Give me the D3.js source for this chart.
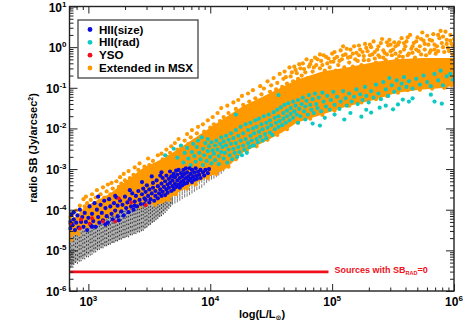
<!DOCTYPE html>
<html>
<meta charset="utf-8">
<head>
<style>
html, body { margin: 0; padding: 0; background: #fff; }
text { font-family: "Liberation Sans", Arial, sans-serif; font-weight: bold; }
.axis path, .axis line { fill: none; stroke: #222; stroke-width: 1; }
.frame { fill: none; stroke: #222; stroke-width: 1.4; }
</style>
<script src="https://d3js.org/d3.v7.min.js"></script>
</head>
<body>
<script>
// all values are log10(L/Lsun) and log10(SB)

var xExponents = [3, 4, 5, 6];
var yExponents = [-6, -5, -4, -3, -2, -1, 0, 1];
var legendNames = ["HII(size)", "HII(rad)", "YSO", "Extended in MSX"];
var legendColors = ["#0a0adf", "#0cc9c4", "#f0101c", "#ff9900"];

// the orange cloud is solid in the middle, so that part is an envelope
var coreL = [2.85, 2.97, 3.18, 3.30, 3.46, 3.61, 3.75, 3.91, 4.12, 4.27, 4.43, 4.59, 4.71, 4.92, 5.12, 5.36, 5.53, 5.74, 5.94, 6.0];
var coreHigh = [-4.34, -3.93, -3.6, -3.31, -2.95, -2.75, -2.48, -2.16, -1.74, -1.45, -1.22, -0.98, -0.8, -0.6, -0.5, -0.36, -0.3, -0.27, -0.27, -0.27];
var coreLow = [-4.70, -4.43, -4.16, -3.99, -3.89, -3.85, -3.55, -3.30, -3.01, -2.59, -2.35, -2.10, -1.86, -1.66, -1.46, -1.29, -1.12, -1.04, -1.00, -0.90];

// upper limits, dense grey part
var limitCoreL = [2.85, 3.09, 3.46, 3.59, 3.69];
var limitCoreHigh = [-4.6, -4.2, -3.85, -3.8, -3.6];
var limitCoreLow = [-5.38, -4.95, -4.47, -4.15, -3.85];

var extended = [
  [2.85, -4.18], [2.86, -4.3], [2.87, -4.12], [2.89, -4.24], [2.90, -4.02], [2.92, -4.16], [2.93, -3.9], [2.95, -4.06], [2.96, -3.74], [2.97, -3.92],
  [2.98, -3.68], [2.99, -3.84], [3.01, -3.98], [3.02, -3.76], [3.03, -3.62], [3.05, -3.88], [3.06, -3.7], [3.07, -3.52], [3.09, -3.78], [3.10, -3.62],
  [3.12, -3.45], [3.13, -3.7], [3.15, -3.55], [3.16, -3.38], [3.18, -3.62], [3.19, -3.34], [3.20, -3.48], [3.22, -3.58], [3.23, -3.3], [3.25, -3.44],
  [3.26, -3.2], [3.27, -3.36], [3.29, -3.12], [3.30, -3.28], [3.31, -3.46], [3.33, -3.05], [3.34, -3.22], [3.35, -3.36], [3.37, -3.14], [3.38, -2.96],
  [3.40, -3.24], [3.41, -3.02], [3.42, -2.86], [3.44, -3.12], [3.46, -2.94], [3.47, -3.08], [3.49, -2.74], [3.50, -2.9], [3.52, -3.0], [3.53, -2.8],
  [3.55, -2.92], [3.57, -2.66], [3.58, -2.84], [3.60, -2.62], [3.61, -2.76], [3.62, -2.9], [3.64, -2.52], [3.65, -2.7], [3.67, -2.6], [3.68, -2.44],
  [3.70, -2.66], [3.71, -2.36], [3.73, -2.52], [3.74, -2.26], [3.76, -2.44], [3.78, -2.58], [3.79, -2.3], [3.81, -2.14], [3.82, -2.38], [3.84, -2.22],
  [3.85, -2.04], [3.87, -2.3], [3.89, -2.12], [3.90, -1.96], [3.92, -2.2], [3.94, -1.9], [3.95, -2.08], [3.97, -2.16], [3.98, -1.8], [4.00, -1.98],
  [4.02, -1.72], [4.03, -1.9], [4.05, -2.0], [4.06, -1.62], [4.08, -1.82], [4.09, -1.5], [4.11, -1.72], [4.13, -1.88], [4.14, -1.44], [4.15, -1.62],
  [4.18, -1.78], [4.19, -1.36], [4.21, -1.52], [4.23, -1.3], [4.24, -1.6], [4.26, -1.2], [4.27, -1.42], [4.29, -1.56], [4.31, -1.14], [4.32, -1.34],
  [4.34, -1.48], [4.35, -1.06], [4.37, -1.26], [4.39, -1.4], [4.41, -0.96], [4.42, -1.16], [4.44, -1.02], [4.45, -1.3], [4.47, -0.84], [4.49, -1.1],
  [4.50, -0.94], [4.52, -0.76], [4.54, -1.04], [4.55, -0.88], [4.57, -0.66], [4.59, -0.98], [4.60, -0.78], [4.61, -0.6], [4.63, -0.9], [4.65, -0.5],
  [4.66, -0.72], [4.68, -0.84], [4.69, -0.48], [4.71, -0.64], [4.72, -0.78], [4.74, -0.52], [4.75, -0.7], [4.76, -0.4], [4.78, -0.62], [4.80, -0.76],
  [4.81, -0.48], [4.83, -0.34], [4.84, -0.6], [4.86, -0.26], [4.87, -0.44], [4.89, -0.68], [4.90, -0.52], [4.91, -0.34], [4.93, -0.2], [4.94, -0.58],
  [4.96, -0.4], [4.97, -0.28], [4.98, -0.5], [5.00, -0.16], [5.01, -0.36], [5.03, -0.58], [5.04, -0.24], [5.05, -0.44], [5.07, -0.08], [5.08, -0.3],
  [5.10, -0.5], [5.11, -0.18], [5.12, -0.04], [5.14, -0.38], [5.15, -0.24], [5.17, -0.48], [5.18, 0.02], [5.20, -0.14], [5.21, -0.34], [5.23, -0.06],
  [5.24, -0.44], [5.26, -0.22], [5.27, 0.08], [5.29, -0.1], [5.30, -0.32], [5.32, 0.0], [5.33, -0.18], [5.34, 0.14], [5.36, -0.38], [5.37, -0.06],
  [5.39, -0.24], [5.40, 0.1], [5.41, 0.2], [5.43, -0.14], [5.44, -0.32], [5.46, 0.04], [5.47, 0.18], [5.49, -0.2], [5.50, -0.06], [5.51, 0.12],
  [5.53, -0.3], [5.54, 0.06], [5.56, -0.12], [5.57, 0.22], [5.58, -0.24], [5.60, 0.02], [5.61, 0.14], [5.63, -0.16], [5.64, 0.3], [5.65, -0.04],
  [5.67, 0.1], [5.68, -0.26], [5.70, 0.24], [5.71, -0.1], [5.72, 0.02], [5.74, 0.36], [5.75, 0.16], [5.77, -0.2], [5.78, 0.28], [5.79, 0.06],
  [5.81, -0.08], [5.82, 0.16], [5.83, 0.32], [5.85, -0.16], [5.86, 0.02], [5.88, 0.22], [5.89, 0.4], [5.90, 0.1], [5.92, -0.12], [5.93, 0.38],
  [5.94, 0.18], [5.95, -0.02], [5.97, 0.3], [5.98, 0.08], [5.99, -0.18], [6.0, 0.2],
  // the thinner top of the cloud, right side
  [4.62, -0.74], [4.67, -0.62], [4.70, -0.56], [4.73, -0.42], [4.77, -0.54], [4.79, -0.3], [4.82, -0.42], [4.85, -0.5], [4.88, -0.3], [4.90, -0.18],
  [4.92, -0.44], [4.95, -0.24], [4.99, -0.36], [5.02, -0.12], [5.02, -0.28], [5.06, -0.34], [5.09, -0.2], [5.09, 0.02], [5.13, -0.26], [5.15, -0.06],
  [5.17, -0.16], [5.19, -0.3], [5.22, -0.2], [5.22, 0.04], [5.25, -0.12], [5.26, -0.32], [5.28, -0.02], [5.31, -0.2], [5.31, 0.06], [5.35, -0.28],
  [5.35, -0.12], [5.38, 0.02], [5.38, -0.2], [5.42, -0.08], [5.42, -0.26], [5.45, -0.18], [5.45, 0.12], [5.48, 0.06], [5.48, -0.1], [5.52, -0.16],
  [5.52, 0.02], [5.55, 0.12], [5.55, -0.22], [5.59, -0.06], [5.59, 0.1], [5.62, -0.2], [5.62, 0.24], [5.66, 0.02], [5.66, -0.14], [5.69, 0.14],
  [5.69, -0.06], [5.73, -0.18], [5.73, 0.2], [5.76, 0.08], [5.76, -0.06], [5.80, 0.18], [5.80, -0.14], [5.84, 0.06], [5.84, -0.06], [5.87, 0.3],
  [5.87, -0.1], [5.91, 0.26], [5.91, 0.0], [5.94, 0.08], [5.96, -0.1], [5.97, 0.16], [5.99, 0.02],
  // rough lower edge
  [2.86, -4.74], [2.92, -4.6], [2.99, -4.44], [3.07, -4.34], [3.14, -4.2], [3.22, -4.12], [3.33, -3.98], [3.42, -3.93], [3.55, -3.88], [3.66, -3.76],
  [3.72, -3.62], [3.81, -3.48], [3.88, -3.38], [3.98, -3.22], [4.05, -3.12], [4.15, -2.94], [4.21, -2.76], [4.30, -2.54], [4.38, -2.44], [4.47, -2.28],
  [4.55, -2.16], [4.63, -2.02], [4.72, -1.86], [4.82, -1.76], [4.92, -1.67], [5.02, -1.56], [5.14, -1.44], [5.24, -1.36], [5.36, -1.28], [5.45, -1.2],
  [5.54, -1.12], [5.62, -1.06], [5.72, -1.05], [5.82, -1.02], [5.92, -1.0], [5.98, -0.94]
];

var limitDots = [
  [2.85, [-5.42, -5.32, -5.24, -5.13, -5.05, -4.95, -4.86, -4.76]], [2.865, [-5.38, -5.29, -5.18, -5.1, -5.0, -4.91, -4.8, -4.73]],
  [2.88, [-5.36, -5.27, -5.19, -5.08, -5.0, -4.89, -4.8, -4.7]], [2.895, [-5.31, -5.22, -5.13, -5.04, -4.93, -4.85, -4.74, -4.66]],
  [2.91, [-5.33, -5.24, -5.14, -5.03, -4.94, -4.84, -4.75, -4.66]], [2.925, [-5.28, -5.18, -5.1, -4.99, -4.9, -4.8, -4.71, -4.61]],
  [2.94, [-5.27, -5.17, -5.09, -4.98, -4.9, -4.79, -4.7, -4.6]], [2.955, [-5.22, -5.14, -5.04, -4.94, -4.85, -4.76, -4.65, -4.56]],
  [2.97, [-5.22, -5.12, -5.03, -4.94, -4.83, -4.74, -4.65, -4.55]], [2.985, [-5.17, -5.07, -4.99, -4.89, -4.8, -4.7, -4.6, -4.51]],
  [3.00, [-5.17, -5.08, -4.97, -4.88, -4.79, -4.68, -4.59, -4.5]], [3.015, [-5.13, -5.03, -4.94, -4.83, -4.75, -4.64, -4.56, -4.46]],
  [3.03, [-5.11, -5.02, -4.92, -4.82, -4.73, -4.63, -4.54, -4.45]], [3.045, [-5.06, -4.97, -4.89, -4.78, -4.69, -4.6, -4.5, -4.41]],
  [3.06, [-5.05, -4.96, -4.86, -4.78, -4.67, -4.58, -4.48, -4.38]], [3.075, [-5.0, -4.91, -4.83, -4.73, -4.63, -4.54, -4.44, -4.35]],
  [3.09, [-4.99, -4.9, -4.81, -4.72, -4.62, -4.53, -4.43, -4.34]], [3.105, [-4.95, -4.86, -4.78, -4.68, -4.59, -4.49, -4.4, -4.31]],
  [3.12, [-4.95, -4.86, -4.75, -4.67, -4.57, -4.47, -4.38, -4.29]], [3.135, [-4.9, -4.82, -4.72, -4.62, -4.54, -4.44, -4.34, -4.26]],
  [3.15, [-4.9, -4.81, -4.72, -4.62, -4.53, -4.44, -4.34, -4.26]], [3.165, [-4.87, -4.77, -4.67, -4.59, -4.49, -4.4, -4.31, -4.22]],
  [3.18, [-4.86, -4.76, -4.67, -4.57, -4.48, -4.39, -4.3, -4.22]], [3.195, [-4.82, -4.73, -4.63, -4.54, -4.45, -4.35, -4.27, -4.18]],
  [3.21, [-4.82, -4.72, -4.63, -4.52, -4.44, -4.35, -4.26, -4.18]], [3.225, [-4.78, -4.69, -4.59, -4.5, -4.41, -4.31, -4.22, -4.14]],
  [3.24, [-4.78, -4.68, -4.58, -4.49, -4.4, -4.3, -4.22, -4.14]], [3.255, [-4.74, -4.65, -4.55, -4.46, -4.37, -4.27, -4.19, -4.1]],
  [3.27, [-4.74, -4.63, -4.55, -4.45, -4.36, -4.27, -4.18, -4.1]], [3.285, [-4.7, -4.61, -4.51, -4.42, -4.33, -4.23, -4.15, -4.07]],
  [3.30, [-4.7, -4.6, -4.51, -4.41, -4.32, -4.23, -4.14, -4.06]], [3.315, [-4.67, -4.58, -4.48, -4.38, -4.29, -4.2, -4.11, -4.03]],
  [3.33, [-4.68, -4.57, -4.47, -4.38, -4.28, -4.19, -4.1, -4.02]], [3.345, [-4.63, -4.54, -4.44, -4.35, -4.26, -4.16, -4.08, -4.0]],
  [3.36, [-4.63, -4.53, -4.44, -4.34, -4.25, -4.15, -4.07, -3.99]], [3.375, [-4.6, -4.51, -4.41, -4.31, -4.22, -4.13, -4.05, -3.97]],
  [3.39, [-4.6, -4.5, -4.4, -4.31, -4.21, -4.12, -4.04, -3.96]], [3.405, [-4.56, -4.47, -4.37, -4.28, -4.19, -4.1, -4.02, -3.95]],
  [3.42, [-4.56, -4.46, -4.36, -4.27, -4.18, -4.09, -4.01, -3.94]], [3.435, [-4.53, -4.43, -4.34, -4.24, -4.15, -4.06, -3.99, -3.93]],
  [3.45, [-4.52, -4.43, -4.33, -4.23, -4.14, -4.06, -3.98, -3.92]], [3.465, [-4.46, -4.38, -4.28, -4.19, -4.1, -4.02, -3.95]],
  [3.48, [-4.44, -4.35, -4.26, -4.17, -4.08, -4.0, -3.92]], [3.495, [-4.39, -4.3, -4.21, -4.12, -4.04, -3.96]],
  [3.51, [-4.37, -4.28, -4.19, -4.1, -4.02, -3.94]], [3.525, [-4.32, -4.24, -4.15, -4.06, -3.98]],
  [3.54, [-4.3, -4.21, -4.12, -4.03, -3.95]], [3.555, [-4.26, -4.17, -4.08, -3.99, -3.92]],
  [3.57, [-4.23, -4.14, -4.05, -3.96, -3.89]], [3.585, [-4.18, -4.1, -4.01, -3.93]],
  [3.60, [-4.16, -4.07, -3.98, -3.9]], [3.615, [-4.12, -4.03, -3.94, -3.87]],
  [3.63, [-4.08, -3.99, -3.9, -3.83]], [3.645, [-4.03, -3.95, -3.86, -3.79]],
  [3.66, [-3.98, -3.9, -3.81, -3.74]], [3.675, [-3.93, -3.85, -3.76]]
];

// further right the limits stack up into little vertical hatches
var limitHatches = [
  [3.69, [-3.88, -3.79, -3.7, -3.62]], [3.71, [-3.85, -3.76, -3.67]], [3.73, [-3.82, -3.73, -3.64]], [3.75, [-3.78, -3.69, -3.6]],
  [3.77, [-3.74, -3.64, -3.55]], [3.79, [-3.7, -3.6, -3.51]], [3.81, [-3.68, -3.58, -3.48]], [3.83, [-3.64, -3.54, -3.44]],
  [3.85, [-3.6, -3.5, -3.41]], [3.87, [-3.56, -3.46, -3.38]], [3.89, [-3.52, -3.42, -3.34]], [3.91, [-3.49, -3.38, -3.3]],
  [3.93, [-3.46, -3.34, -3.26]], [3.95, [-3.4, -3.3]], [3.97, [-3.34, -3.25]], [3.99, [-3.3, -3.22]], [4.01, [-3.26, -3.18]],
  [4.03, [-3.24, -3.15]], [4.05, [-3.2, -3.12]], [4.07, [-3.16, -3.08]], [4.09, [-3.12, -3.04]], [4.11, [-3.06, -2.98]]
];

var hiiRad = [
  [3.63, -2.66], [3.70, -2.5], [3.73, -2.72], [3.76, -2.42], [3.78, -2.84], [3.79, -2.6], [3.81, -2.48], [3.82, -2.74], [3.84, -2.9], [3.85, -2.58],
  [3.86, -2.38], [3.87, -2.68], [3.88, -2.82], [3.89, -2.46], [3.90, -2.3], [3.91, -2.6], [3.92, -2.76], [3.93, -2.22], [3.94, -2.5], [3.94, -2.9],
  [3.95, -2.66], [3.96, -2.36], [3.97, -2.8], [3.98, -2.56], [3.98, -2.26], [3.99, -2.44], [4.00, -2.7], [4.01, -2.86], [4.01, -2.34], [4.02, -2.54],
  [4.03, -2.62], [4.04, -2.42], [4.04, -2.78], [4.05, -2.3], [4.06, -2.52], [4.07, -2.68], [4.07, -2.88], [4.08, -2.38], [4.09, -2.58], [4.09, -2.22],
  [4.10, -2.46], [4.11, -2.74], [4.11, -2.32], [4.12, -2.6], [4.13, -2.18], [4.13, -2.42], [4.14, -2.84], [4.15, -2.52], [4.15, -2.28], [4.16, -2.66],
  [4.17, -2.38], [4.17, -2.12], [4.18, -2.76], [4.19, -2.5], [4.19, -2.24], [4.20, -2.6], [4.21, -2.36], [4.21, -2.04], [4.22, -2.7], [4.23, -2.46],
  [4.23, -2.18], [4.24, -2.58], [4.25, -2.3], [4.25, -1.96], [4.26, -2.66], [4.27, -2.42], [4.27, -2.12], [4.28, -2.52], [4.29, -2.26], [4.29, -1.9],
  [4.30, -2.6], [4.31, -2.36], [4.31, -2.04], [4.32, -2.46], [4.33, -2.18], [4.33, -1.86], [4.34, -2.3], [4.35, -2.0], [4.35, -2.42], [4.36, -2.12],
  [4.37, -1.8], [4.38, -2.26], [4.38, -1.96], [4.39, -2.34], [4.40, -2.08], [4.40, -1.76], [4.41, -2.2], [4.42, -1.9], [4.43, -2.3], [4.43, -2.02],
  [4.44, -1.7], [4.45, -2.14], [4.46, -1.86], [4.46, -2.24], [4.47, -1.98], [4.48, -1.66], [4.49, -2.1], [4.49, -1.8], [4.50, -1.92], [4.51, -2.16],
  [4.52, -1.6], [4.53, -1.74], [4.53, -2.02], [4.54, -1.86], [4.55, -1.54], [4.56, -1.96], [4.56, -1.7], [4.57, -1.82], [4.58, -1.48], [4.59, -1.92],
  [4.60, -1.62], [4.60, -1.76], [4.61, -1.42], [4.62, -1.86], [4.63, -1.56], [4.63, -1.7], [4.64, -1.38], [4.65, -1.8], [4.66, -1.5], [4.66, -1.64],
  [4.68, -1.34], [4.68, -1.74], [4.69, -1.58], [4.70, -1.44], [4.71, -1.66], [4.72, -1.3], [4.73, -1.52], [4.74, -1.7], [4.75, -1.4], [4.76, -1.24],
  [4.77, -1.58], [4.78, -1.46], [4.79, -1.32], [4.80, -1.66], [4.81, -1.18], [4.82, -1.42], [4.83, -1.54], [4.84, -1.28], [4.85, -1.62], [4.86, -1.14],
  [4.87, -1.4], [4.88, -1.5], [4.89, -1.24], [4.91, -1.58], [4.92, -1.12], [4.93, -1.34], [4.95, -1.46], [4.96, -1.2], [4.98, -1.54], [4.99, -1.3],
  [5.01, -1.1], [5.02, -1.42], [5.04, -1.22], [5.06, -1.52], [5.07, -1.34], [5.09, -1.08], [5.11, -1.26], [5.12, -1.44], [5.14, -1.14], [5.16, -1.34],
  [5.18, -1.22], [5.20, -1.04], [5.21, -1.4], [5.23, -1.16], [5.25, -1.3], [5.27, -0.98], [5.28, -1.2], [5.30, -1.36], [5.32, -1.08], [5.34, -1.24],
  [5.36, -0.92], [5.38, -1.14], [5.40, -1.28], [5.42, -0.86], [5.44, -1.04], [5.46, -1.2], [5.47, -0.76], [5.49, -0.94], [5.51, -1.1], [5.53, -0.82],
  [5.55, -1.02], [5.57, -0.9], [5.59, -0.74], [5.61, -0.98], [5.63, -0.84], [5.66, -1.02], [5.69, -0.78], [5.72, -0.92], [5.75, -0.7], [5.78, -0.86],
  [5.81, -0.96], [5.84, -0.66], [5.87, -0.82], [5.89, -0.58], [5.91, -0.94], [5.94, -0.72], [5.97, -0.66], [5.99, -0.8],
  // stragglers under the band
  [4.36, -2.42], [4.72, -1.86], [4.78, -1.78], [4.84, -1.88], [4.90, -1.93], [4.94, -1.74], [5.02, -1.66], [5.10, -1.78], [5.15, -1.62], [5.24, -1.71],
  [5.28, -1.54], [5.32, -1.61], [5.39, -1.49], [5.44, -1.44], [5.50, -1.53], [5.54, -1.41], [5.58, -1.29], [5.63, -1.34], [5.66, -1.26], [5.81, -1.17],
  [5.84, -1.34], [5.90, -1.39], [4.21, -1.66], [4.56, -1.18]
];

var hiiSize = [
  [2.85, -4.3], [2.85, -4.46], [2.86, -4.12], [2.87, -4.38], [2.88, -4.06], [2.88, -4.24], [2.89, -4.5], [2.90, -4.32], [2.91, -4.14], [2.92, -4.44],
  [2.93, -4.0], [2.94, -4.3], [2.95, -4.18], [2.96, -4.42], [2.97, -4.08], [2.98, -4.3], [2.99, -4.5], [3.00, -4.2], [3.01, -3.92], [3.02, -4.38],
  [3.03, -4.1], [3.04, -4.28], [3.05, -3.84], [3.06, -4.42], [3.07, -4.0], [3.08, -4.18], [3.08, -3.68], [3.09, -4.32], [3.10, -3.88], [3.11, -4.08],
  [3.12, -4.26], [3.13, -3.78], [3.14, -3.96], [3.15, -4.16], [3.16, -4.32], [3.17, -3.74], [3.18, -3.92], [3.19, -4.1], [3.20, -4.24], [3.21, -3.84],
  [3.22, -4.02], [3.23, -3.7], [3.24, -4.16], [3.24, -3.9], [3.25, -4.26], [3.26, -3.78], [3.27, -4.04], [3.28, -3.88], [3.29, -4.14], [3.30, -3.68],
  [3.31, -3.96], [3.32, -3.82], [3.33, -4.06], [3.34, -3.74], [3.35, -3.92], [3.36, -3.6], [3.37, -4.0], [3.38, -3.8], [3.39, -3.66], [3.40, -3.92],
  [3.41, -3.54], [3.42, -3.76], [3.43, -3.86], [3.44, -3.62], [3.45, -3.48], [3.46, -3.72], [3.46, -3.86], [3.47, -3.56], [3.48, -3.4], [3.49, -3.66],
  [3.50, -3.82], [3.50, -3.5], [3.51, -3.74], [3.52, -3.6], [3.53, -3.34], [3.53, -3.46], [3.54, -3.78], [3.55, -3.66], [3.55, -3.54], [3.56, -3.28],
  [3.57, -3.42], [3.57, -3.72], [3.58, -3.6], [3.59, -3.16], [3.59, -3.5], [3.60, -3.36], [3.60, -3.66], [3.61, -3.22], [3.61, -3.56], [3.62, -3.44],
  [3.63, -3.3], [3.63, -3.64], [3.64, -3.16], [3.64, -3.5], [3.65, -3.38], [3.65, -3.58], [3.66, -3.24], [3.66, -3.46], [3.67, -3.06], [3.67, -3.34],
  [3.68, -3.54], [3.68, -3.18], [3.69, -3.42], [3.69, -3.28], [3.70, -3.12], [3.70, -3.5], [3.71, -3.36], [3.71, -3.2], [3.72, -3.04], [3.72, -3.44],
  [3.73, -3.28], [3.73, -3.14], [3.74, -3.38], [3.74, -3.02], [3.75, -3.22], [3.75, -3.46], [3.76, -3.32], [3.76, -3.1], [3.77, -3.4], [3.77, -3.18],
  [3.78, -3.28], [3.78, -3.02], [3.79, -3.36], [3.79, -3.12], [3.80, -3.22], [3.80, -2.98], [3.81, -3.34], [3.81, -3.08], [3.82, -3.18], [3.82, -3.28],
  [3.83, -2.98], [3.84, -3.24], [3.84, -3.12], [3.85, -3.02], [3.85, -3.32], [3.86, -3.18], [3.87, -3.08], [3.87, -3.26], [3.88, -2.98], [3.89, -3.16],
  [3.89, -3.24], [3.90, -3.06], [3.91, -3.14], [3.92, -3.02], [3.92, -3.22], [3.94, -3.08], [3.95, -3.16], [3.96, -3.02], [3.98, -3.1], [3.99, -3.0],
  [3.44, -3.32], [3.52, -3.18], [3.60, -3.08], [3.34, -3.52], [3.22, -3.66], [3.38, -3.9], [3.47, -3.76], [3.03, -4.42], [3.14, -4.36]
];

var yso = [
  [2.85, -4.34], [2.93, -4.46], [2.94, -4.24], [3.01, -4.34], [3.03, -4.21], [3.12, -4.29], [3.22, -4.29], [3.25, -3.72], [3.35, -3.82], [3.47, -3.89]
];

// sources with no radio flux, pinned at the bottom of the plot
var zeroSbL = [2.85, 3.5, 4.0, 4.5, 4.97];
var zeroSbValue = [-5.53, -5.53, -5.53, -5.53, -5.53];

var margin = {left: 69.5, top: 6.5},
    width = 384.5,
    height = 284.5;

var x = d3.scaleLog().domain([700, 1e6]).range([0, width]);
var y = d3.scaleLog().domain([1e-6, 10]).range([height, 0]);

function p10(v) { return Math.pow(10, v); }

function flatten(cols) {
    var out = [];
    cols.forEach(function(c) {
        c[1].forEach(function(v) { out.push([c[0], v]); });
    });
    return out;
}

function zipBand(xs, high, low) {
    return xs.map(function(d, i) { return {l: d, hi: high[i], lo: low[i]}; });
}

var band = d3.area()
    .x(function(d) { return x(p10(d.l)); })
    .y0(function(d) { return y(p10(d.lo)); })
    .y1(function(d) { return y(p10(d.hi)); });

var svg = d3.select("body").append("svg")
    .attr("width", 463)
    .attr("height", 334)
    .style("display", "block");

var g = svg.append("g")
    .attr("transform", "translate(" + margin.left + "," + margin.top + ")");

g.append("clipPath").attr("id", "plot").append("rect")
    .attr("x", -1).attr("y", 0).attr("width", width + 1).attr("height", height);

var marks = g.append("g").attr("clip-path", "url(#plot)");

marks.append("path")
    .datum(zipBand(limitCoreL, limitCoreHigh, limitCoreLow))
    .attr("fill", "#b0b0b0")
    .attr("d", band);

function limitTicks(data, len, width) {
    marks.append("g").selectAll("line")
        .data(data)
      .enter().append("line")
        .attr("x1", function(d) { return x(p10(d[0])); })
        .attr("x2", function(d) { return x(p10(d[0])); })
        .attr("y1", function(d) { return y(p10(d[1])); })
        .attr("y2", function(d) { return y(p10(d[1])) - len; })
        .attr("stroke", "#222")
        .attr("stroke-width", width);
}

limitTicks(flatten(limitDots), 1.6, 0.9);
limitTicks(flatten(limitHatches), 3.5, 0.6);

marks.append("path")
    .datum(zipBand(coreL, coreHigh, coreLow))
    .attr("fill", legendColors[3])
    .attr("d", band);

function dots(data, color, r) {
    marks.append("g").selectAll("circle")
        .data(data)
      .enter().append("circle")
        .attr("cx", function(d) { return x(p10(d[0])); })
        .attr("cy", function(d) { return y(p10(d[1])); })
        .attr("r", r)
        .attr("fill", color);
}

dots(extended, legendColors[3], 2.1);
dots(hiiRad, legendColors[1], 2.1);
dots(hiiSize, legendColors[0], 2.1);
dots(yso, legendColors[2], 1.9);

marks.append("path")
    .datum(d3.zip(zeroSbL, zeroSbValue))
    .attr("fill", "none")
    .attr("stroke", "#f0101c")
    .attr("stroke-width", 2.6)
    .attr("d", d3.line()
        .x(function(d) { return x(p10(d[0])); })
        .y(function(d) { return y(p10(d[1])); }));

var zeroLabel = g.append("text")
    .attr("x", x(p10(5.02)))
    .attr("y", y(p10(-5.53)) + 1.5)
    .attr("fill", "#f0101c")
    .attr("font-size", 9);
zeroLabel.append("tspan").text("Sources with SB");
zeroLabel.append("tspan").attr("font-size", 5.5).attr("dy", 2).text("RAD");
zeroLabel.append("tspan").attr("dy", -2).text("=0");

// ticks, pointing inwards on all four sides
var xMajor = xExponents.map(p10);
var yMajor = yExponents.map(p10);
var multiples = [2, 3, 4, 5, 6, 7, 8, 9];
var xMinor = [], yMinor = [];
d3.range(2, 6).forEach(function(e) {
    multiples.forEach(function(m) {
        var v = m * p10(e);
        if (v >= 700 && v < 1e6) xMinor.push(v);
    });
});
d3.range(-6, 1).forEach(function(e) {
    multiples.forEach(function(m) { yMinor.push(m * p10(e)); });
});

function addAxis(axisFn, scale, values, size, transform) {
    g.append("g")
        .attr("class", "axis")
        .attr("transform", transform)
        .call(axisFn(scale).tickValues(values).tickSize(size).tickFormat(""))
        .call(function(a) { a.select(".domain").remove(); });
}

addAxis(d3.axisBottom, x, xMajor, -7, "translate(0," + height + ")");
addAxis(d3.axisBottom, x, xMinor, -3.5, "translate(0," + height + ")");
addAxis(d3.axisTop, x, xMajor, -7, "translate(0,0)");
addAxis(d3.axisTop, x, xMinor, -3.5, "translate(0,0)");
addAxis(d3.axisLeft, y, yMajor, -8, "translate(0,0)");
addAxis(d3.axisLeft, y, yMinor, -4, "translate(0,0)");
addAxis(d3.axisRight, y, yMajor, -8, "translate(" + width + ",0)");
addAxis(d3.axisRight, y, yMinor, -4, "translate(" + width + ",0)");

g.append("rect")
    .attr("class", "frame")
    .attr("width", width)
    .attr("height", height);

function powerLabel(sel, e) {
    sel.append("tspan").attr("font-size", 12).text("10");
    sel.append("tspan").attr("font-size", 8).attr("dy", -5).text(e);
}

xExponents.forEach(function(e) {
    g.append("text")
        .attr("x", x(p10(e)))
        .attr("y", height + 15)
        .attr("text-anchor", "middle")
        .call(powerLabel, e);
});

yExponents.forEach(function(e) {
    g.append("text")
        .attr("x", -3)
        .attr("y", y(p10(e)) + 5)
        .attr("text-anchor", "end")
        .call(powerLabel, e);
});

// axis titles
var xTitle = svg.append("text")
    .attr("x", 262)
    .attr("y", 318)
    .attr("text-anchor", "middle")
    .attr("font-size", 11);
xTitle.append("tspan").text("log(L/L");
xTitle.append("tspan").attr("font-size", 7).attr("dy", 2)
    .style("font-family", "'DejaVu Sans'").text("\u2299");
xTitle.append("tspan").attr("dy", -2).text(")");

var yTitle = svg.append("text")
    .attr("transform", "translate(37,148) rotate(-90)")
    .attr("text-anchor", "middle")
    .attr("font-size", 11);
yTitle.append("tspan").text("radio SB (Jy/arcsec");
yTitle.append("tspan").attr("font-size", 7).attr("dy", -4).text("2");
yTitle.append("tspan").attr("dy", 4).text(")");

// legend
svg.append("rect")
    .attr("x", 78)
    .attr("y", 20)
    .attr("width", 120)
    .attr("height", 58)
    .attr("fill", "#fff")
    .attr("stroke", "#444")
    .attr("stroke-width", 1.3);

var legendY = d3.scalePoint().domain(legendNames).range([29.5, 68]);

var entries = svg.selectAll(".entry")
    .data(legendNames)
  .enter().append("g")
    .attr("class", "entry")
    .attr("transform", function(d) { return "translate(90," + legendY(d) + ")"; });

entries.append("circle")
    .attr("r", 2.4)
    .attr("fill", function(d, i) { return legendColors[i]; });

entries.append("text")
    .attr("x", 9)
    .attr("y", 4)
    .attr("font-size", 11.6)
    .text(function(d) { return d; });
</script>
</body>
</html>
